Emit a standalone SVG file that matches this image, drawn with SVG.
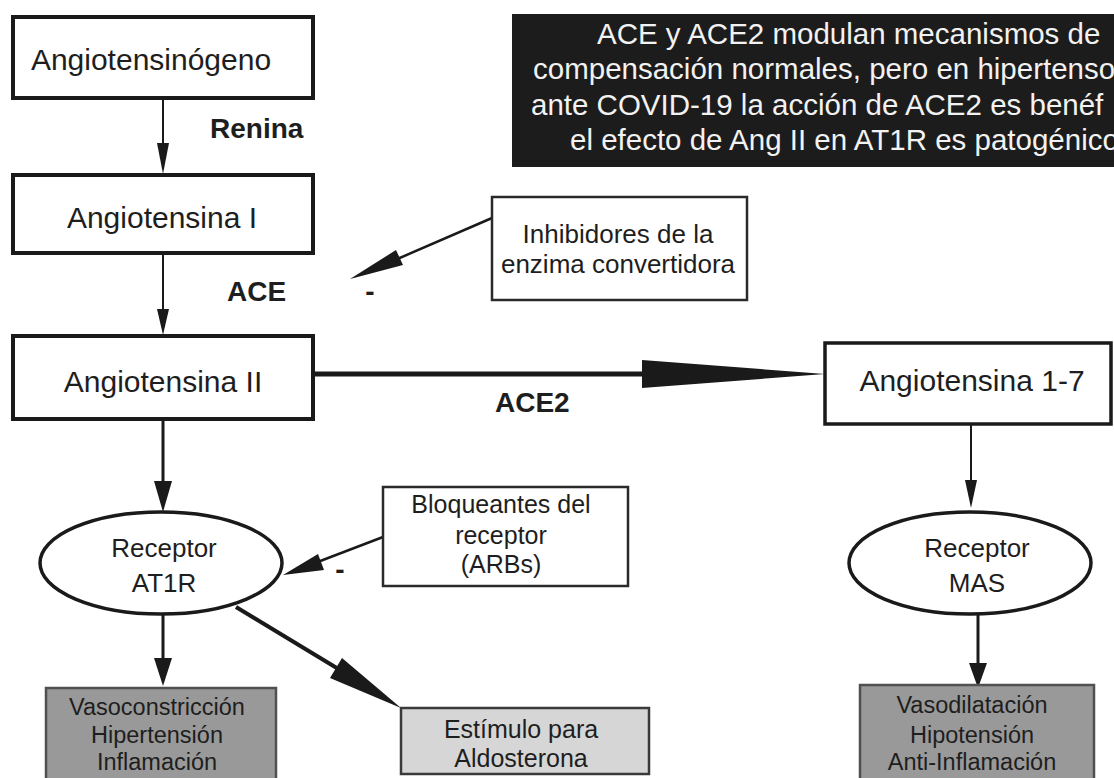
<svg xmlns="http://www.w3.org/2000/svg" width="1114" height="778" viewBox="0 0 1114 778">
<style>
text{font-family:"Liberation Sans",Arial,Helvetica,sans-serif;fill:#1e1e1e}
.big{font-size:30px}
.bold{font-size:28px;font-weight:bold}
.mid{font-size:26px}
.sm{font-size:25px}
.xs{font-size:23.5px}
.note{font-size:29.5px;fill:#f2f2f2}
.box{fill:#fff;stroke:#1a1a1a;stroke-width:4}
.tbox{fill:#fff;stroke:#2a2a2a;stroke-width:2.5}
.ell{fill:#fff;stroke:#1a1a1a;stroke-width:3.5}
.dk{fill:#999;stroke:#505050;stroke-width:2.5}
.lt{fill:#d6d6d6;stroke:#3a3a3a;stroke-width:2.5}
.ln{stroke:#1a1a1a;fill:none}
.ah{fill:#1a1a1a}
</style>
<rect width="1114" height="778" fill="#fff"/>
<g id="note">
<rect x="512" y="14" width="620" height="153" fill="#1c1c1c"/>
<text class="note" x="597" y="44">ACE y ACE2 modulan mecanismos de</text>
<text class="note" x="533" y="79">compensación normales, pero en hipertenso</text>
<text class="note" x="531" y="115">ante COVID-19 la acción de ACE2 es benéf</text>
<text class="note" x="570" y="150">el efecto de Ang II en AT1R es patogénico</text>
</g>
<g id="connectors">
<line class="ln" x1="163" y1="98" x2="163" y2="150" stroke-width="2"/>
<polygon class="ah" points="157,143 169,143 163,174"/>
<line class="ln" x1="163" y1="253" x2="163" y2="315" stroke-width="2"/>
<polygon class="ah" points="157,309 169,309 163,335"/>
<line class="ln" x1="313" y1="374" x2="650" y2="374" stroke-width="5"/>
<polygon class="ah" points="642,360 825,374 642,388"/>
<line class="ln" x1="163" y1="419" x2="163" y2="485" stroke-width="3"/>
<polygon class="ah" points="154,481 172,481 163,512"/>
<line class="ln" x1="163" y1="615" x2="163" y2="662" stroke-width="3"/>
<polygon class="ah" points="154,658 172,658 163,686"/>
<line class="ln" x1="236" y1="607" x2="345" y2="673" stroke-width="4"/>
<polygon class="ah" points="330,678 342,658 401,708"/>
<line class="ln" x1="383" y1="537" x2="315" y2="563" stroke-width="2.5"/>
<polygon class="ah" points="318,554 324,570 283,575"/>
<line class="ln" x1="492" y1="218" x2="395" y2="260" stroke-width="2.5"/>
<polygon class="ah" points="396,250 403,265 350,279"/>
<line class="ln" x1="971" y1="424" x2="971" y2="485" stroke-width="2"/>
<polygon class="ah" points="965,480 977,480 971,508"/>
<line class="ln" x1="978" y1="615" x2="978" y2="668" stroke-width="3"/>
<polygon class="ah" points="969,663 987,663 978,688"/>
</g>
<g id="angiotensinogeno">
<rect class="box" x="13" y="17" width="300" height="81"/>
<text class="big" x="151" y="70" text-anchor="middle">Angiotensinógeno</text>
</g>
<g id="renina"><text class="bold" x="210" y="138">Renina</text></g>
<g id="angiotensina1">
<rect class="box" x="13" y="175" width="300" height="78"/>
<text class="big" x="162" y="228" text-anchor="middle">Angiotensina I</text>
</g>
<g id="ace"><text class="bold" x="227" y="301">ACE</text></g>
<g id="minus1"><text class="bold" x="370" y="301" text-anchor="middle">-</text></g>
<g id="inhibidores">
<rect class="tbox" x="492" y="197" width="255" height="103"/>
<text class="mid" x="618" y="243" text-anchor="middle">Inhibidores de la</text>
<text class="mid" x="618" y="273" text-anchor="middle">enzima convertidora</text>
</g>
<g id="angiotensina2">
<rect class="box" x="13" y="336" width="300" height="83"/>
<text class="big" x="163" y="392" text-anchor="middle">Angiotensina II</text>
</g>
<g id="ace2"><text class="bold" x="495" y="412">ACE2</text></g>
<g id="angiotensina17">
<rect class="box" x="825" y="343" width="286" height="81" style="stroke-width:3.5"/>
<text class="big" x="972" y="391" text-anchor="middle">Angiotensina 1-7</text>
</g>
<g id="at1r">
<ellipse class="ell" cx="161" cy="563" rx="121" ry="51"/>
<text class="mid" x="164" y="557" text-anchor="middle">Receptor</text>
<text class="mid" x="164" y="592" text-anchor="middle">AT1R</text>
</g>
<g id="bloqueantes">
<rect class="tbox" x="383" y="487" width="245" height="99"/>
<text class="sm" x="501" y="513" text-anchor="middle">Bloqueantes del</text>
<text class="sm" x="501" y="544" text-anchor="middle">receptor</text>
<text class="sm" x="501" y="573" text-anchor="middle">(ARBs)</text>
</g>
<g id="minus2"><text class="bold" x="340" y="579" text-anchor="middle">-</text></g>
<g id="mas">
<ellipse class="ell" cx="970" cy="563" rx="121" ry="51"/>
<text class="mid" x="977" y="557" text-anchor="middle">Receptor</text>
<text class="mid" x="977" y="592" text-anchor="middle">MAS</text>
</g>
<g id="vasoconstriccion">
<rect class="dk" x="46" y="688" width="230" height="110"/>
<text class="xs" x="157" y="715" text-anchor="middle">Vasoconstricción</text>
<text class="xs" x="157" y="743" text-anchor="middle">Hipertensión</text>
<text class="xs" x="157" y="770" text-anchor="middle">Inflamación</text>
</g>
<g id="estimulo">
<rect class="lt" x="401" y="708" width="248" height="66"/>
<text class="sm" x="521" y="738" text-anchor="middle">Estímulo para</text>
<text class="sm" x="521" y="767" text-anchor="middle">Aldosterona</text>
</g>
<g id="vasodilatacion">
<rect class="dk" x="860" y="685" width="234" height="113"/>
<text class="xs" x="972" y="713" text-anchor="middle">Vasodilatación</text>
<text class="xs" x="972" y="743" text-anchor="middle">Hipotensión</text>
<text class="xs" x="972" y="770" text-anchor="middle">Anti-Inflamación</text>
</g>
</svg>
